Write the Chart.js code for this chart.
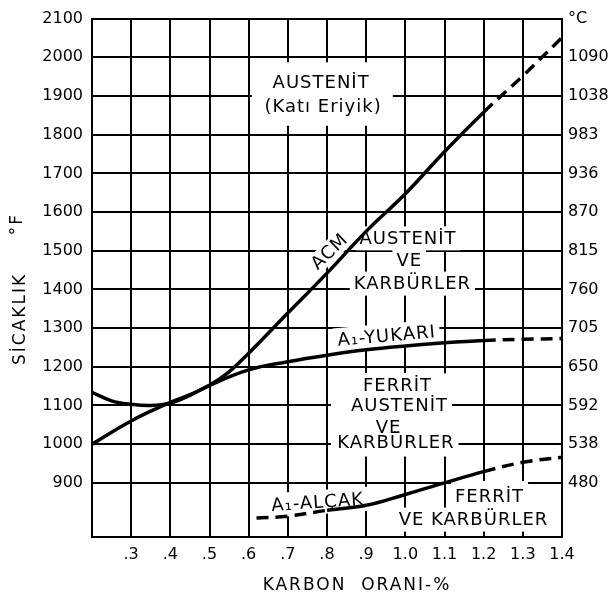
<!DOCTYPE html>
<html><head><meta charset="utf-8">
<script src="https://cdn.jsdelivr.net/npm/chart.js@4/dist/chart.umd.min.js"></script>
<style>html,body{margin:0;padding:0;background:#fff}canvas{display:block}</style>
</head><body>
<canvas id="c" width="610" height="599"></canvas>
<script>
// ---- data ----
const xTicks = [0.2, 0.3, 0.4, 0.5, 0.6, 0.7, 0.8, 0.9, 1.0, 1.1, 1.2, 1.3, 1.4];
const xTickLabels = ['', '.3', '.4', '.5', '.6', '.7', '.8', '.9', '1.0', '1.1', '1.2', '1.3', '1.4'];
const fTicks = [900, 1000, 1100, 1200, 1300, 1400, 1500, 1600, 1700, 1800, 1900, 2000, 2100];
const fTickLabels = ['900', '1000', '1100', '1200', '1300', '1400', '1500', '1600', '1700', '1800', '1900', '2000', '2100'];
const cTickLabels = ['480', '538', '592', '650', '705', '760', '815', '870', '936', '983', '1038', '1090', '°C'];

// ACM line (lower-left branch rising to upper right)
const carbonAcm = [0.2, 0.3, 0.4, 0.45, 0.5, 0.55, 0.6, 0.7, 0.8, 0.9, 1.0, 1.1, 1.2, 1.3, 1.4];
const tempAcm   = [1000, 1060, 1108, 1128, 1152, 1187, 1235, 1339, 1442, 1550, 1647, 1756, 1858, 1952, 2051];
// A1 upper line
const carbonUpper = [0.2, 0.25, 0.3, 0.35, 0.4, 0.45, 0.5, 0.6, 0.7, 0.8, 0.9, 1.0, 1.1, 1.2, 1.3, 1.4];
const tempUpper   = [1134, 1112, 1103, 1100, 1106, 1126, 1152, 1192, 1213, 1230, 1244, 1254, 1262, 1268, 1271, 1273];
// A1 lower line
const carbonLower = [0.62, 0.7, 0.8, 0.9, 1.0, 1.1, 1.2, 1.3, 1.4];
const tempLower   = [809, 814, 829, 842, 870, 900, 929, 953, 966];

// ---- layout / style (kept apart from the data) ----
const FONT = "'DejaVu Sans', 'Liberation Sans', sans-serif";
const DASH = [12, 7];
const masks = [
  {x1: 0.608, x2: 0.968, y1: 1987, y2: 1823},
  {x1: 0.810, x2: 1.119, y1: 1183, y2: 968}
];
const labels = [
  {t: 'AUSTENİT', x: 0.785, y: 1935},
  {t: '(Katı Eriyik)', x: 0.79, y: 1872},
  {t: 'AUSTENİT', x: 1.007, y: 1532},
  {t: 'VE', x: 1.01, y: 1474},
  {t: 'KARBÜRLER', x: 1.018, y: 1415},
  {t: 'ACM', x: 0.806, y: 1498, rot: -44, padX: 2, padY: 1},
  {t: 'A₁-YUKARI', x: 0.952, y: 1280, rot: -5},
  {t: 'FERRİT', x: 0.98, y: 1153},
  {t: 'AUSTENİT', x: 0.985, y: 1100},
  {t: 'VE', x: 0.957, y: 1044},
  {t: 'KARBÜRLER', x: 0.976, y: 1005},
  {t: 'FERRİT', x: 1.215, y: 866, padY: 6},
  {t: 'VE KARBÜRLER', x: 1.174, y: 805},
  {t: 'A₁-ALÇAK', x: 0.776, y: 850, rot: -4}
];

function pts(xs, ys) { return xs.map((x, i) => ({x: x, y: ys[i]})); }

const LABEL_FONT = '18px ' + FONT;
const annot = {
  id: 'annot',
  beforeDatasetsDraw(chart) {
    const {ctx, scales: {x, y}} = chart;
    ctx.save();
    ctx.fillStyle = '#fff';
    masks.forEach(m => {
      const px1 = x.getPixelForValue(m.x1), px2 = x.getPixelForValue(m.x2);
      const py1 = y.getPixelForValue(m.y1), py2 = y.getPixelForValue(m.y2);
      ctx.fillRect(px1, py1, px2 - px1, py2 - py1);
    });
    ctx.font = LABEL_FONT;
    ctx.letterSpacing = '1px';
    labels.forEach(l => {
      const w = ctx.measureText(l.t).width;
      const px = x.getPixelForValue(l.x), py = y.getPixelForValue(l.y);
      ctx.save();
      ctx.translate(px, py);
      ctx.rotate((l.rot || 0) * Math.PI / 180);
      const padX = l.padX || 4, padY = l.padY || 3;
      ctx.fillRect(-w / 2 - padX, -9 - padY, w + 2 * padX, 18 + 2 * padY);
      ctx.restore();
    });
    ctx.restore();
  },
  afterDatasetsDraw(chart) {
    const {ctx, scales: {x, y}} = chart;
    ctx.save();
    ctx.fillStyle = '#000';
    ctx.font = LABEL_FONT;
    ctx.letterSpacing = '1px';
    ctx.textAlign = 'center';
    ctx.textBaseline = 'middle';
    labels.forEach(l => {
      const px = x.getPixelForValue(l.x), py = y.getPixelForValue(l.y);
      ctx.save();
      ctx.translate(px, py);
      ctx.rotate((l.rot || 0) * Math.PI / 180);
      ctx.fillText(l.t, 0, 1);
      ctx.restore();
    });
    ctx.restore();
  },
  afterDraw(chart) {
    const ctx = chart.ctx;
    ctx.save();
    ctx.fillStyle = '#000';
    ctx.font = '17px ' + FONT;
    ctx.letterSpacing = '2px';
    ctx.textAlign = 'center';
    ctx.textBaseline = 'middle';
    ctx.fillText('KARBON  ORANI-%', 357, 586);
    ctx.save();
    ctx.translate(21, 319);
    ctx.rotate(-Math.PI / 2);
    ctx.fillText('SİCAKLIK', 0, 0);
    ctx.restore();
    ctx.save();
    ctx.translate(18, 224);
    ctx.rotate(-Math.PI / 2);
    ctx.fillText('°F', 0, 0);
    ctx.restore();
    ctx.restore();
  }
};

Chart.defaults.color = '#000';
Chart.defaults.font.family = FONT;

const lineStyle = {borderColor: '#000', borderWidth: 3.5, pointRadius: 0, fill: false, tension: 0.4};

new Chart(document.getElementById('c'), {
  type: 'line',
  data: {
    datasets: [
      Object.assign({label: 'ACM', data: pts(carbonAcm, tempAcm),
        segment: {borderDash: c => c.p0.parsed.x >= 1.19 ? DASH : undefined}}, lineStyle),
      Object.assign({label: 'A1-YUKARI', data: pts(carbonUpper, tempUpper),
        segment: {borderDash: c => c.p0.parsed.x >= 1.19 ? DASH : undefined}}, lineStyle),
      Object.assign({label: 'A1-ALCAK', data: pts(carbonLower, tempLower),
        segment: {borderDash: c => (c.p1.parsed.x <= 0.81 || c.p0.parsed.x >= 1.19) ? DASH : undefined}}, lineStyle)
    ]
  },
  options: {
    responsive: false,
    animation: false,
    devicePixelRatio: 1,
    layout: {padding: {top: 14, left: 0, right: 0, bottom: 0}},
    plugins: {legend: {display: false}, tooltip: {enabled: false}},
    scales: {
      x: {
        type: 'linear', min: 0.2, max: 1.4,
        afterBuildTicks: a => { a.ticks = xTicks.map(v => ({value: v})); },
        afterFit: a => { a.height = 62; },
        ticks: {
          callback: v => { const i = xTicks.findIndex(t => Math.abs(t - v) < 1e-6); return i >= 0 ? xTickLabels[i] : ''; },
          font: {size: 16}, padding: 8, maxRotation: 0, autoSkip: false
        },
        grid: {color: '#000', lineWidth: 2, drawTicks: false},
        border: {color: '#000', width: 2}
      },
      y: {
        position: 'left', min: 760, max: 2100,
        afterBuildTicks: a => { a.ticks = fTicks.map(v => ({value: v})); },
        afterFit: a => { a.width = 92; },
        ticks: {
          callback: v => { const i = fTicks.indexOf(v); return i >= 0 ? fTickLabels[i] : ''; },
          font: {size: 16}, padding: 9, autoSkip: false
        },
        grid: {color: '#000', lineWidth: 2, drawTicks: false},
        border: {color: '#000', width: 2}
      },
      y2: {
        position: 'right', min: 760, max: 2100,
        afterBuildTicks: a => { a.ticks = fTicks.map(v => ({value: v})); },
        afterFit: a => { a.width = 48; },
        ticks: {
          callback: v => { const i = fTicks.indexOf(v); return i >= 0 ? cTickLabels[i] : ''; },
          font: {size: 16}, padding: 6, autoSkip: false
        },
        grid: {drawOnChartArea: false, drawTicks: false},
        border: {color: '#000', width: 2}
      }
    }
  },
  plugins: [annot]
});
</script>
</body></html>
